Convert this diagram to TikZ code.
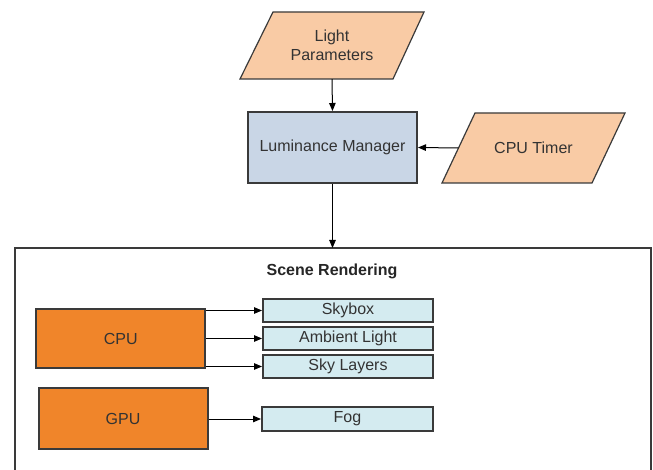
\documentclass[tikz,border=0pt]{standalone}
\usepackage{fontspec}
\setmainfont{Liberation Sans}
\usetikzlibrary{arrows.meta}
\definecolor{peach}{HTML}{F9CBA5}
\definecolor{lmblue}{HTML}{C9D6E6}
\definecolor{orng}{HTML}{F0852A}
\definecolor{lcyan}{HTML}{D4EBF0}
\definecolor{edge}{HTML}{3A3A3A}
\definecolor{txt}{HTML}{333333}
\tikzset{
  lbl/.style={font=\fontsize{16}{19}\selectfont, text=txt, align=center, inner sep=0pt},
  box/.style={lbl, draw=edge, line width=2pt},
  ghost/.style={lbl, rectangle},
  arr/.style={-{Triangle[length=8pt,width=6.5pt]}, line width=1pt, draw=black},
  para/.style={fill=peach, draw=edge, line width=1.2pt, line join=miter},
}
\begin{document}
\begin{tikzpicture}[x=1pt,y=-1pt]
\clip (0,0) rectangle (653,470);
\fill[white] (0,0) rectangle (653,470);
% container
\draw[edge, line width=1.2pt] (15,248) rectangle (651,480);
\node[lbl, font=\fontsize{16}{19}\selectfont\bfseries, text=black!85] (scene) at (332,271) {Scene Rendering};
% Light Parameters
\draw[para] (273,12) -- (424,12) -- (393,79) -- (240,79) -- cycle;
\node[ghost, minimum width=150pt, minimum height=67pt] (lp) at (332,45.5) {Light\\Parameters};
% CPU Timer
\draw[para] (475,113) -- (625,113) -- (592,183) -- (442,183) -- cycle;
\node[ghost, minimum width=150pt, minimum height=70pt] (ct) at (533.5,148) {CPU Timer};
% Luminance manager
\node[box, fill=lmblue, minimum width=169pt, minimum height=71pt] (lm) at (332.5,147.5) {Luminance Manager};
% CPU / GPU
\node[box, fill=orng, minimum width=169pt, minimum height=59pt] (cpu) at (120.75,338.5) {CPU};
\node[box, fill=orng, minimum width=169pt, minimum height=61pt] (gpu) at (123,418.5) {GPU};
% small boxes
\node[box, fill=lcyan, minimum width=170pt, minimum height=23pt] (sky) at (348,310.5) {Skybox};
\node[box, fill=lcyan, minimum width=170pt, minimum height=23pt] (amb) at (348,338.5) {Ambient Light};
\node[box, fill=lcyan, minimum width=170pt, minimum height=23pt] (lay) at (348,366.5) {Sky Layers};
\node[box, fill=lcyan, minimum width=171pt, minimum height=24pt] (fog) at (347.5,419) {Fog};
% connectors
\draw[arr] (lp.south) -- (lm.north);
\draw[arr] (ct.west) -- (lm.east);
\coordinate (ctop) at (lm.south |- 0,248);
\draw[arr] (lm.south) -- (ctop);
\draw[arr] (cpu.east |- sky.west) -- (sky.west);
\draw[arr] (cpu.east |- amb.west) -- (amb.west);
\draw[arr] (cpu.east |- lay.west) -- (lay.west);
\draw[arr] (gpu.east |- fog.west) -- (fog.west);
\end{tikzpicture}
\end{document}
